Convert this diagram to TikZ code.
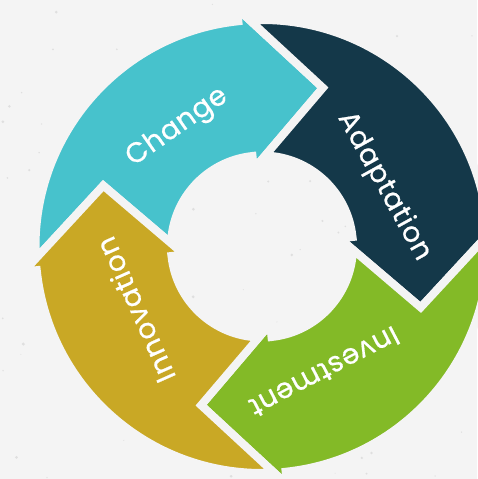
\documentclass[tikz,border=0pt]{standalone}
\usepackage{fontspec}
\newfontfamily\labelfont{Poppins}[FakeBold=0.6, LetterSpace=3]

\definecolor{bgcol}{HTML}{F4F4F4}
\definecolor{changecol}{HTML}{47C2CC}
\definecolor{adaptcol}{HTML}{143849}
\definecolor{investcol}{HTML}{83BA27}
\definecolor{innovcol}{HTML}{C9A825}

% one bent arrow of the cycle; #1 = angle where its head starts, #2 = colour
\newcommand{\cyclearrow}[2]{%
  \filldraw [fill=#2, draw=bgcol, line width=8pt]
    ({#1+87.05}:226.5) arc [start angle={#1+87.05}, end angle=#1, radius=226.5]
    -- (#1:239.5) -- ({#1-27}:170) -- (#1:78) -- (#1:91)
    arc [start angle=#1, end angle={#1+81.97}, radius=91]
    -- ({#1+63}:170) -- cycle;}

\begin{document}
\begin{tikzpicture}[x=1pt,y=1pt]
	\tikzstyle{every node}+=[inner sep=0pt]
	\tikzset{steplabel/.style={text=white, font=\labelfont\fontsize{28}{28}\selectfont}}
	\useasboundingbox (-262,-232.5) rectangle (215,246.5);
	\fill [bgcol] (-262,-232.5) rectangle (215,246.5);
	% paper speckles
	\pgfmathsetseed{11}
	\foreach \i in {1,...,90}
		\fill [black!20, opacity=0.5] ({-262+477*rnd},{-232.5+479*rnd}) circle ({0.5+1.2*rnd});
	% the four arrows
	\cyclearrow{96}{changecol}
	\cyclearrow{6}{adaptcol}
	\cyclearrow{-84}{investcol}
	\cyclearrow{186}{innovcol}
	% labels
	\node [steplabel, rotate=35] (change) at (125.4:146) {Change};
	\node [steplabel, rotate=-61] (adapt) at (26.2:136) {Adaptation};
	\node [steplabel, rotate=207.5] (invest) at (-63.5:140) {Investment};
	\node [steplabel, rotate=114] (innov) at (206.6:142) {Innovation};
\end{tikzpicture}
\end{document}
